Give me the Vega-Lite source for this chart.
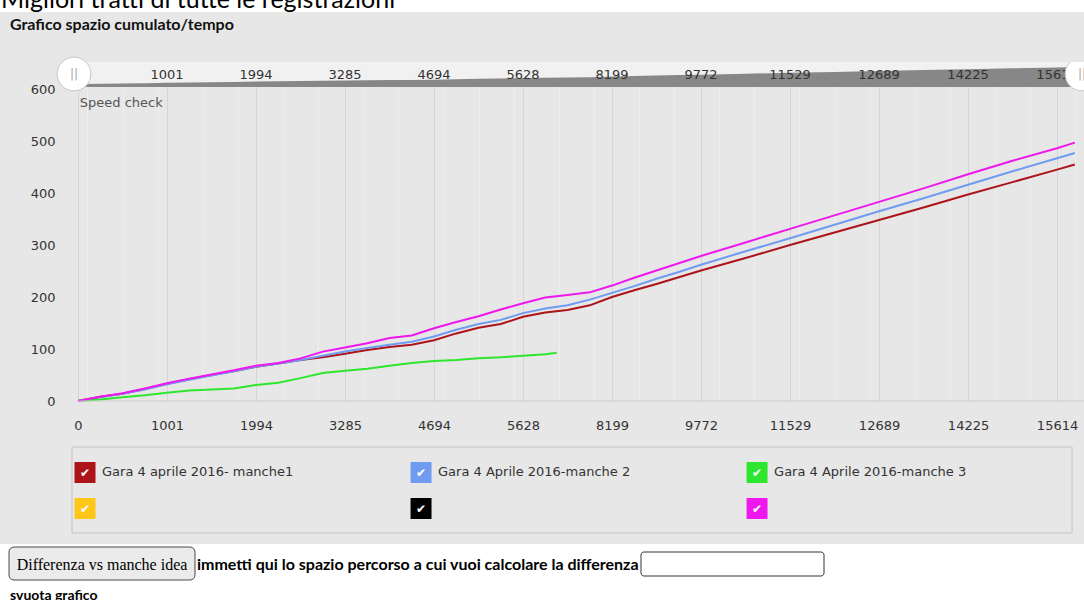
{
  "$schema": "https://vega.github.io/schema/vega-lite/v6.json",
  "background": "#e7e7e7",
  "padding": 0,
  "spacing": 0,
  "bounds": "full",
  "config": {"view": {"stroke": null}, "font": "DejaVu Sans"},
  "datasets": {
    "one": [{"k": 1}],
    "ticks": [
      {"idx": 0, "label": "0"}, {"idx": 1, "label": "1001"}, {"idx": 2, "label": "1994"}, {"idx": 3, "label": "3285"},
      {"idx": 4, "label": "4694"}, {"idx": 5, "label": "5628"}, {"idx": 6, "label": "8199"}, {"idx": 7, "label": "9772"},
      {"idx": 8, "label": "11529"}, {"idx": 9, "label": "12689"}, {"idx": 10, "label": "14225"}, {"idx": 11, "label": "15614"}
    ],
    "series": [
      {"s": "s1", "name": "Gara 4 aprile 2016- manche1", "col": 0, "row": 0},
      {"s": "s2", "name": "Gara 4 Aprile 2016-manche 2", "col": 1, "row": 0},
      {"s": "s3", "name": "Gara 4 Aprile 2016-manche 3", "col": 2, "row": 0},
      {"s": "s4", "name": "", "col": 0, "row": 1},
      {"s": "s5", "name": "", "col": 1, "row": 1},
      {"s": "s6", "name": "", "col": 2, "row": 1}
    ],
    "lines": [
      {"s": "s1", "idx": 0, "v": 0}, {"s": "s1", "idx": 0.25, "v": 8}, {"s": "s1", "idx": 0.5, "v": 14}, {"s": "s1", "idx": 0.75, "v": 23},
      {"s": "s1", "idx": 1, "v": 33}, {"s": "s1", "idx": 1.25, "v": 42}, {"s": "s1", "idx": 1.5, "v": 50}, {"s": "s1", "idx": 1.75, "v": 57},
      {"s": "s1", "idx": 2, "v": 66}, {"s": "s1", "idx": 2.25, "v": 72}, {"s": "s1", "idx": 2.5, "v": 79}, {"s": "s1", "idx": 2.75, "v": 84},
      {"s": "s1", "idx": 3, "v": 91}, {"s": "s1", "idx": 3.25, "v": 98}, {"s": "s1", "idx": 3.5, "v": 104}, {"s": "s1", "idx": 3.75, "v": 108},
      {"s": "s1", "idx": 4, "v": 117}, {"s": "s1", "idx": 4.25, "v": 130}, {"s": "s1", "idx": 4.5, "v": 141}, {"s": "s1", "idx": 4.75, "v": 148},
      {"s": "s1", "idx": 5, "v": 162}, {"s": "s1", "idx": 5.25, "v": 170}, {"s": "s1", "idx": 5.5, "v": 175}, {"s": "s1", "idx": 5.75, "v": 184},
      {"s": "s1", "idx": 6, "v": 200}, {"s": "s1", "idx": 6.25, "v": 213}, {"s": "s1", "idx": 6.5, "v": 225}, {"s": "s1", "idx": 6.75, "v": 238},
      {"s": "s1", "idx": 7, "v": 251}, {"s": "s1", "idx": 7.5, "v": 275}, {"s": "s1", "idx": 8, "v": 300}, {"s": "s1", "idx": 8.5, "v": 324},
      {"s": "s1", "idx": 9, "v": 348}, {"s": "s1", "idx": 9.5, "v": 372}, {"s": "s1", "idx": 10, "v": 397}, {"s": "s1", "idx": 10.5, "v": 421},
      {"s": "s1", "idx": 11, "v": 445}, {"s": "s1", "idx": 11.2, "v": 455},

      {"s": "s2", "idx": 0, "v": 0}, {"s": "s2", "idx": 0.25, "v": 7}, {"s": "s2", "idx": 0.5, "v": 14}, {"s": "s2", "idx": 0.75, "v": 22},
      {"s": "s2", "idx": 1, "v": 32}, {"s": "s2", "idx": 1.25, "v": 41}, {"s": "s2", "idx": 1.5, "v": 49}, {"s": "s2", "idx": 1.75, "v": 57},
      {"s": "s2", "idx": 2, "v": 66}, {"s": "s2", "idx": 2.25, "v": 72}, {"s": "s2", "idx": 2.5, "v": 79}, {"s": "s2", "idx": 2.75, "v": 87},
      {"s": "s2", "idx": 3, "v": 95}, {"s": "s2", "idx": 3.25, "v": 102}, {"s": "s2", "idx": 3.5, "v": 108}, {"s": "s2", "idx": 3.75, "v": 114},
      {"s": "s2", "idx": 4, "v": 124}, {"s": "s2", "idx": 4.25, "v": 137}, {"s": "s2", "idx": 4.5, "v": 148}, {"s": "s2", "idx": 4.75, "v": 156},
      {"s": "s2", "idx": 5, "v": 169}, {"s": "s2", "idx": 5.25, "v": 178}, {"s": "s2", "idx": 5.5, "v": 184}, {"s": "s2", "idx": 5.75, "v": 195},
      {"s": "s2", "idx": 6, "v": 208}, {"s": "s2", "idx": 6.25, "v": 221}, {"s": "s2", "idx": 6.5, "v": 235}, {"s": "s2", "idx": 6.75, "v": 248},
      {"s": "s2", "idx": 7, "v": 262}, {"s": "s2", "idx": 7.5, "v": 288}, {"s": "s2", "idx": 8, "v": 313}, {"s": "s2", "idx": 8.5, "v": 339},
      {"s": "s2", "idx": 9, "v": 365}, {"s": "s2", "idx": 9.5, "v": 390}, {"s": "s2", "idx": 10, "v": 416}, {"s": "s2", "idx": 10.5, "v": 442},
      {"s": "s2", "idx": 11, "v": 467}, {"s": "s2", "idx": 11.2, "v": 477},

      {"s": "s3", "idx": 0, "v": 0}, {"s": "s3", "idx": 0.25, "v": 3}, {"s": "s3", "idx": 0.5, "v": 7}, {"s": "s3", "idx": 0.75, "v": 11},
      {"s": "s3", "idx": 1, "v": 16}, {"s": "s3", "idx": 1.25, "v": 20}, {"s": "s3", "idx": 1.5, "v": 22}, {"s": "s3", "idx": 1.75, "v": 24},
      {"s": "s3", "idx": 2, "v": 31}, {"s": "s3", "idx": 2.25, "v": 35}, {"s": "s3", "idx": 2.5, "v": 44}, {"s": "s3", "idx": 2.75, "v": 54},
      {"s": "s3", "idx": 3, "v": 58}, {"s": "s3", "idx": 3.25, "v": 62}, {"s": "s3", "idx": 3.5, "v": 68}, {"s": "s3", "idx": 3.75, "v": 73},
      {"s": "s3", "idx": 4, "v": 77}, {"s": "s3", "idx": 4.25, "v": 79}, {"s": "s3", "idx": 4.5, "v": 82}, {"s": "s3", "idx": 4.75, "v": 84},
      {"s": "s3", "idx": 5, "v": 87}, {"s": "s3", "idx": 5.25, "v": 90}, {"s": "s3", "idx": 5.38, "v": 93},

      {"s": "s6", "idx": 0, "v": 0}, {"s": "s6", "idx": 0.25, "v": 8}, {"s": "s6", "idx": 0.5, "v": 15}, {"s": "s6", "idx": 0.75, "v": 24},
      {"s": "s6", "idx": 1, "v": 34}, {"s": "s6", "idx": 1.25, "v": 43}, {"s": "s6", "idx": 1.5, "v": 51}, {"s": "s6", "idx": 1.75, "v": 59},
      {"s": "s6", "idx": 2, "v": 68}, {"s": "s6", "idx": 2.25, "v": 73}, {"s": "s6", "idx": 2.5, "v": 82}, {"s": "s6", "idx": 2.75, "v": 95},
      {"s": "s6", "idx": 3, "v": 103}, {"s": "s6", "idx": 3.25, "v": 111}, {"s": "s6", "idx": 3.5, "v": 121}, {"s": "s6", "idx": 3.75, "v": 126},
      {"s": "s6", "idx": 4, "v": 140}, {"s": "s6", "idx": 4.25, "v": 152}, {"s": "s6", "idx": 4.5, "v": 163}, {"s": "s6", "idx": 4.75, "v": 176},
      {"s": "s6", "idx": 5, "v": 188}, {"s": "s6", "idx": 5.25, "v": 199}, {"s": "s6", "idx": 5.5, "v": 204}, {"s": "s6", "idx": 5.75, "v": 209},
      {"s": "s6", "idx": 6, "v": 222}, {"s": "s6", "idx": 6.25, "v": 237}, {"s": "s6", "idx": 6.5, "v": 251}, {"s": "s6", "idx": 6.75, "v": 265},
      {"s": "s6", "idx": 7, "v": 279}, {"s": "s6", "idx": 7.5, "v": 305}, {"s": "s6", "idx": 8, "v": 331}, {"s": "s6", "idx": 8.5, "v": 357},
      {"s": "s6", "idx": 9, "v": 383}, {"s": "s6", "idx": 9.5, "v": 409}, {"s": "s6", "idx": 10, "v": 436}, {"s": "s6", "idx": 10.5, "v": 462},
      {"s": "s6", "idx": 11, "v": 486}, {"s": "s6", "idx": 11.2, "v": 497}
    ]
  },
  "vconcat": [
    {
      "width": 1084,
      "height": 12,
      "view": {"fill": "white", "stroke": null},
      "data": {"values": [{"t": "Migliori tratti di tutte le registrazioni"}]},
      "mark": {"type": "text", "clip": true, "font": "Lato", "fontSize": 25, "align": "left", "baseline": "alphabetic", "color": "#000000"},
      "encoding": {
        "x": {"datum": 1, "type": "quantitative", "scale": {"domain": [0, 1084], "nice": false, "zero": false},
          "axis": {"labels": false, "ticks": false, "domain": false, "grid": false, "title": ".", "titleColor": "#e7e7e7", "titleFontSize": 5, "titlePadding": 0}},
        "y": {"datum": 8, "type": "quantitative", "scale": {"domain": [0, 12], "nice": false, "zero": false, "reverse": true}, "axis": null},
        "text": {"field": "t"}
      }
    },
    {
      "width": 1084,
      "height": 339,
      "title": {"text": "Grafico spazio cumulato/tempo", "anchor": "start", "frame": "group", "dx": 10, "offset": 6, "font": "Lato", "fontSize": 16, "fontWeight": "bold", "color": "#111111", "baseline": "bottom"},
      "layer": [
        {
          "layer": [
            {
              "data": {"name": "lines"},
              "mark": {"type": "line", "strokeWidth": 2, "interpolate": "linear"},
              "encoding": {
                "x": {"field": "idx", "type": "quantitative", "scale": {"domain": [-0.8764, 11.303], "nice": false, "zero": false},
                  "axis": {"orient": "bottom", "values": [0, 1, 2, 3, 4, 5, 6, 7, 8, 9, 10, 11],
                    "labelExpr": "['0','1001','1994','3285','4694','5628','8199','9772','11529','12689','14225','15614'][datum.value]",
                    "labelFlush": false, "labelOverlap": false, "grid": true, "gridColor": "#d5d5d5", "gridWidth": 1,
                    "ticks": false, "tickSize": 0, "domain": false, "labelPadding": 18,
                    "labelFontSize": 13, "labelColor": "#333333", "labelFont": "DejaVu Sans",
                    "title": ".", "titleColor": "#e7e7e7", "titleFontSize": 10, "titlePadding": 4}},
                "y": {"field": "v", "type": "quantitative", "scale": {"domain": [0, 652], "nice": false, "zero": true},
                  "axis": {"values": [0, 100, 200, 300, 400, 500, 600], "grid": false, "ticks": false, "domain": false, "offset": -78,
                    "labelPadding": 23, "labelFontSize": 13, "labelColor": "#333333", "labelFont": "DejaVu Sans", "title": null}},
                "color": {"field": "s", "type": "nominal",
                  "scale": {"domain": ["s1", "s2", "s3", "s4", "s5", "s6"], "range": ["#ac1419", "#6f9cf0", "#2fe62f", "#ffc61a", "#000000", "#ee18ee"]},
                  "legend": null}
              }
            },
            {
              "data": {"name": "one"},
              "mark": {"type": "rule", "color": "#cdcdcd", "strokeWidth": 1},
              "encoding": {"x": {"datum": 0, "type": "quantitative"}, "x2": {"datum": 11.303}, "y": {"datum": 0, "type": "quantitative"}}
            },
            {
              "data": {"name": "one"},
              "mark": {"type": "text", "text": "Speed check", "align": "left", "baseline": "middle", "fontSize": 13, "color": "#555555", "font": "DejaVu Sans"},
              "encoding": {"x": {"datum": 0.02, "type": "quantitative"}, "y": {"datum": 573, "type": "quantitative"}}
            }
          ]
        },
        {
          "layer": [
            {
              "data": {"name": "one"},
              "mark": {"type": "rect", "color": "#f1f1f1"},
              "encoding": {
                "x": {"datum": 0, "type": "quantitative", "scale": {"domain": [-0.8764, 11.303], "nice": false, "zero": false},
                  "axis": {"orient": "top", "grid": true, "gridColor": "#eeeeee", "gridWidth": 1, "labels": false, "ticks": false, "domain": false, "title": null,
                    "values": [0.1,0.2,0.3,0.4,0.5,0.6,0.7,0.8,0.9,1.1,1.2,1.3,1.4,1.5,1.6,1.7,1.8,1.9,2.1,2.2,2.3,2.4,2.5,2.6,2.7,2.8,2.9,3.1,3.2,3.3,3.4,3.5,3.6,3.7,3.8,3.9,4.1,4.2,4.3,4.4,4.5,4.6,4.7,4.8,4.9,5.1,5.2,5.3,5.4,5.5,5.6,5.7,5.8,5.9,6.1,6.2,6.3,6.4,6.5,6.6,6.7,6.8,6.9,7.1,7.2,7.3,7.4,7.5,7.6,7.7,7.8,7.9,8.1,8.2,8.3,8.4,8.5,8.6,8.7,8.8,8.9,9.1,9.2,9.3,9.4,9.5,9.6,9.7,9.8,9.9,10.1,10.2,10.3,10.4,10.5,10.6,10.7,10.8,10.9,11.1,11.2,11.3]}},
                "x2": {"datum": 11.303},
                "y": {"datum": -80, "type": "quantitative", "scale": {"domain": [-8485, 589], "nice": false, "zero": false}, "axis": null},
                "y2": {"datum": 589}
              }
            },
            {
              "data": {"name": "lines"},
              "transform": [{"filter": "datum.s == 's1'"}],
              "mark": {"type": "area", "color": "#878787", "opacity": 1},
              "encoding": {
                "x": {"field": "idx", "type": "quantitative"},
                "y": {"field": "v", "type": "quantitative"},
                "y2": {"datum": -80}
              }
            },
            {
              "data": {"name": "ticks"},
              "transform": [{"filter": "datum.idx >= 1"}],
              "mark": {"type": "text", "fontSize": 13, "color": "#333333", "baseline": "middle", "align": "center", "font": "DejaVu Sans"},
              "encoding": {
                "x": {"field": "idx", "type": "quantitative"},
                "y": {"datum": 241, "type": "quantitative"},
                "text": {"field": "label"}
              }
            },
            {
              "data": {"name": "one"},
              "mark": {"type": "point", "shape": "circle", "filled": true, "fill": "#ffffff", "stroke": "#c8c8c8", "strokeWidth": 1, "size": 1134, "opacity": 1},
              "encoding": {"x": {"datum": -0.045, "type": "quantitative"}, "y": {"datum": 268, "type": "quantitative"}}
            },
            {
              "data": {"name": "one"},
              "mark": {"type": "text", "text": "||", "fontSize": 12, "color": "#a8a8a8", "align": "center", "baseline": "middle"},
              "encoding": {"x": {"datum": -0.045, "type": "quantitative"}, "y": {"datum": 268, "type": "quantitative"}}
            },
            {
              "data": {"name": "one"},
              "mark": {"type": "point", "shape": "circle", "filled": true, "fill": "#ffffff", "stroke": "#c8c8c8", "strokeWidth": 1, "size": 1134, "opacity": 1, "clip": true},
              "encoding": {"x": {"datum": 11.28, "type": "quantitative"}, "y": {"datum": 268, "type": "quantitative"}}
            },
            {
              "data": {"name": "one"},
              "mark": {"type": "text", "text": "||", "fontSize": 12, "color": "#a8a8a8", "align": "center", "baseline": "middle", "clip": true},
              "encoding": {"x": {"datum": 11.28, "type": "quantitative"}, "y": {"datum": 268, "type": "quantitative"}}
            }
          ]
        }
      ],
      "resolve": {"scale": {"y": "independent"}, "axis": {"x": "independent", "y": "independent"}}
    },
    {
      "width": 1084,
      "height": 86,
      "view": {"stroke": null, "fill": null},
      "data": {"name": "series"},
      "layer": [
        {
          "data": {"name": "one"},
          "mark": {"type": "rect", "fill": null, "stroke": "#c4c4c4", "strokeWidth": 1},
          "encoding": {
            "x": {"datum": -0.0387, "type": "quantitative", "scale": {"domain": [-0.253, 2.973], "nice": false, "zero": false},
              "axis": {"labels": false, "ticks": false, "domain": false, "grid": false, "title": ".", "titleColor": "#e7e7e7", "titleFontSize": 12, "titlePadding": 0}},
            "x2": {"datum": 2.9375},
            "y": {"datum": -0.708, "type": "quantitative", "scale": {"domain": [-0.708, 1.681], "nice": false, "zero": false, "reverse": true}, "axis": null},
            "y2": {"datum": 1.681}
          }
        },
        {
          "mark": {"type": "square", "size": 441, "opacity": 1, "filled": true},
          "encoding": {
            "x": {"field": "col", "type": "quantitative"},
            "y": {"field": "row", "type": "quantitative"},
            "color": {"field": "s", "type": "nominal",
              "scale": {"domain": ["s1", "s2", "s3", "s4", "s5", "s6"], "range": ["#c0141c", "#6f9cf0", "#22e622", "#ffc61a", "#000000", "#ee18ee"]},
              "legend": null}}
        },
        {
          "mark": {"type": "text", "text": "✔", "color": "#ffffff", "fontSize": 12, "align": "center", "baseline": "middle", "dy": 1},
          "encoding": {"x": {"field": "col", "type": "quantitative"}, "y": {"field": "row", "type": "quantitative"}}
        },
        {
          "mark": {"type": "text", "align": "left", "baseline": "middle", "dx": 17, "fontSize": 13, "color": "#333333", "font": "DejaVu Sans"},
          "encoding": {"x": {"field": "col", "type": "quantitative"}, "y": {"field": "row", "type": "quantitative"}, "text": {"field": "name"}}
        }
      ]
    },
    {
      "width": 1084,
      "height": 56,
      "view": {"fill": "white", "stroke": null},
      "data": {"name": "one"},
      "layer": [
        {
          "mark": {"type": "rect", "fill": "#ebebeb", "stroke": "#4a4a4a", "strokeWidth": 1, "cornerRadius": 5, "clip": true},
          "encoding": {
            "x": {"datum": 9, "type": "quantitative", "scale": {"domain": [0, 1084], "nice": false, "zero": false}, "axis": null},
            "x2": {"datum": 195},
            "y": {"datum": 3, "type": "quantitative", "scale": {"domain": [0, 56], "nice": false, "zero": false, "reverse": true}, "axis": null},
            "y2": {"datum": 36}
          }
        },
        {
          "mark": {"type": "text", "text": "Differenza vs manche idea", "font": "Liberation Serif", "fontSize": 16, "color": "#000000", "align": "center", "baseline": "middle", "clip": true},
          "encoding": {"x": {"datum": 102, "type": "quantitative"}, "y": {"datum": 21, "type": "quantitative"}}
        },
        {
          "mark": {"type": "text", "text": "immetti qui lo spazio percorso a cui vuoi calcolare la differenza", "font": "Lato", "fontWeight": "bold", "fontSize": 16, "color": "#000000", "align": "left", "baseline": "middle", "clip": true},
          "encoding": {"x": {"datum": 197, "type": "quantitative"}, "y": {"datum": 21, "type": "quantitative"}}
        },
        {
          "mark": {"type": "rect", "fill": "#ffffff", "stroke": "#333333", "strokeWidth": 1, "cornerRadius": 3, "clip": true},
          "encoding": {"x": {"datum": 641, "type": "quantitative"}, "x2": {"datum": 824}, "y": {"datum": 8, "type": "quantitative"}, "y2": {"datum": 32}}
        },
        {
          "mark": {"type": "text", "text": "svuota grafico", "font": "Lato", "fontWeight": "bold", "fontSize": 14, "color": "#000000", "align": "left", "baseline": "alphabetic", "clip": true},
          "encoding": {"x": {"datum": 10, "type": "quantitative"}, "y": {"datum": 56, "type": "quantitative"}}
        }
      ]
    }
  ]
}
